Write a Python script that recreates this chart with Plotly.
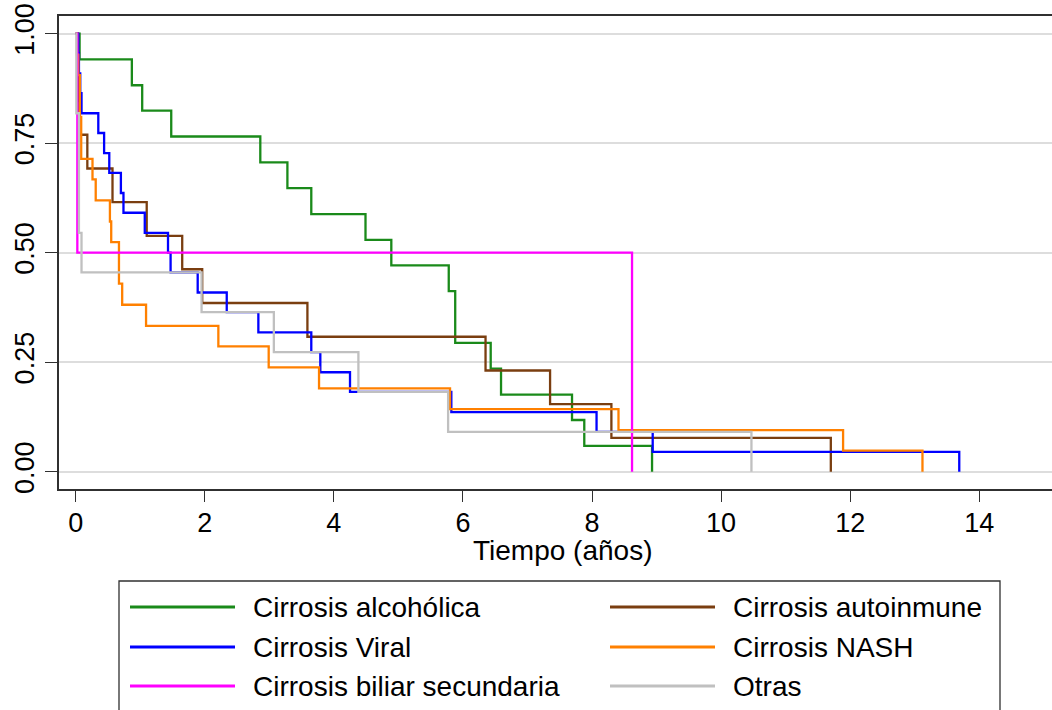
import plotly.graph_objects as go

# ---------------- data ----------------
series_names = ["Cirrosis alcohólica", "Cirrosis autoinmune", "Cirrosis Viral",
                "Cirrosis NASH", "Cirrosis biliar secundaria", "Otras"]
series_colors = ["#1a8a1a", "#7a3e10", "#0000ff", "#ff8000", "#ff00ff", "#c0c0c0"]

# event times (years) and Kaplan-Meier survival after each event
alc_t = [0.06, 0.87, 1.03, 1.48, 2.86, 3.28, 3.65, 4.49, 4.89, 5.78, 5.88, 6.43, 6.59, 7.69, 7.88, 8.93]
alc_s = [0.941, 0.882, 0.824, 0.765, 0.706, 0.647, 0.588, 0.529, 0.471, 0.412, 0.294, 0.235, 0.176, 0.118, 0.059, 0.0]

aut_t = [0.03, 0.045, 0.055, 0.18, 0.57, 1.10, 1.65, 1.96, 3.59, 6.35, 7.35, 8.30, 11.70]
aut_s = [0.923, 0.846, 0.769, 0.692, 0.615, 0.538, 0.462, 0.385, 0.308, 0.231, 0.154, 0.077, 0.0]

vir_t = [0.04, 0.05, 0.07, 0.09, 0.35, 0.44, 0.52, 0.70, 0.74, 1.07, 1.43, 1.47, 1.89, 2.34, 2.83,
         3.65, 3.79, 4.25, 5.82, 8.07, 8.94, 13.69]
vir_s = [0.955, 0.909, 0.864, 0.818, 0.773, 0.727, 0.682, 0.636, 0.591, 0.545, 0.500, 0.455, 0.409,
         0.364, 0.318, 0.273, 0.227, 0.182, 0.136, 0.091, 0.045, 0.0]

nash_t = [0.02, 0.04, 0.065, 0.085, 0.26, 0.31, 0.53, 0.55, 0.67, 0.72, 1.09, 2.21, 2.99, 3.77,
          5.80, 8.41, 11.89, 13.12]
nash_s = [0.952, 0.905, 0.810, 0.714, 0.667, 0.619, 0.571, 0.524, 0.429, 0.381, 0.333, 0.286,
          0.238, 0.190, 0.143, 0.095, 0.048, 0.0]

bil_t = [0.025, 8.62]
bil_s = [0.5, 0.0]

otr_t = [0.01, 0.05, 0.09, 1.95, 3.07, 4.38, 5.77, 10.47]
otr_s = [0.818, 0.545, 0.455, 0.364, 0.273, 0.182, 0.091, 0.0]

x_ticks = [0, 2, 4, 6, 8, 10, 12, 14]
y_ticks = [0.0, 0.25, 0.50, 0.75, 1.00]
x_title = "Tiempo (años)"

all_t = [alc_t, aut_t, vir_t, nash_t, bil_t, otr_t]
all_s = [alc_s, aut_s, vir_s, nash_s, bil_s, otr_s]

# ---------------- layout geometry (pixels) ----------------
W, H = 1052, 710
PL, PT, PR, PB = 59, 16, 1052, 489


def fx(px):
    return (px - PL) / (PR - PL)


def fy(py):
    return (PB - py) / (PB - PT)


FONT = "Arial, Liberation Sans, sans-serif"

fig = go.Figure()
for name, col, t, s in zip(series_names, series_colors, all_t, all_s):
    fig.add_trace(go.Scatter(
        x=[0] + t, y=[1.0] + s, mode="lines", line=dict(color=col, width=2.3, shape="hv"),
        name=name, showlegend=False, hoverinfo="skip"))

fig.update_layout(
    width=W, height=H,
    margin=dict(l=PL, r=W - PR, t=PT, b=H - PB, pad=0),
    paper_bgcolor="white", plot_bgcolor="white",
    font=dict(family=FONT, size=27, color="black"),
    showlegend=False,
)
fig.update_xaxes(
    range=[-0.259, 15.127], tickvals=x_ticks, ticktext=[str(v) for v in x_ticks],
    showgrid=False, zeroline=False, showline=True, linecolor="#303030", linewidth=1.5,
    mirror=True, ticks="outside", ticklen=11, tickwidth=1.3, tickcolor="#303030",
    tickfont=dict(family=FONT, size=27, color="black"), ticklabelstandoff=-2,
)
fig.update_yaxes(
    range=[-0.0395, 1.040], tickvals=y_ticks, ticktext=["%.2f" % v for v in y_ticks],
    showgrid=True, gridcolor="#dddddd", gridwidth=1.5, zeroline=False,
    showline=True, linecolor="#303030", linewidth=1.5, mirror=False,
    ticks="outside", ticklen=12, tickwidth=1.3, tickcolor="#303030",
    tickangle=-90, tickfont=dict(family=FONT, size=27, color="black"),
)

annotations = [dict(text=x_title, x=fx(562.5), y=fy(550), xref="paper", yref="paper",
                    xanchor="center", yanchor="middle", showarrow=False,
                    font=dict(family=FONT, size=28, color="black"))]
shapes = [dict(type="rect", xref="paper", yref="paper", x0=fx(119), x1=fx(1000),
               y0=fy(581), y1=fy(740), line=dict(color="#303030", width=1.3),
               fillcolor="rgba(0,0,0,0)", layer="above")]

# legend (row-major, two columns)
row_y = [607, 647, 686]
col_line = [(130, 235), (610, 715)]
col_text = [251, 731]
for i, (name, col) in enumerate(zip(series_names, series_colors)):
    r, c = divmod(i, 2)
    y = fy(row_y[r])
    shapes.append(dict(type="line", xref="paper", yref="paper",
                       x0=fx(col_line[c][0]), x1=fx(col_line[c][1]), y0=y, y1=y,
                       line=dict(color=col, width=3)))
    annotations.append(dict(text=name, x=fx(col_text[c]), y=y, xref="paper", yref="paper",
                            xanchor="left", yanchor="middle", showarrow=False,
                            font=dict(family=FONT, size=28, color="black")))

fig.update_layout(annotations=annotations, shapes=shapes)
fig.write_html("out.html")
